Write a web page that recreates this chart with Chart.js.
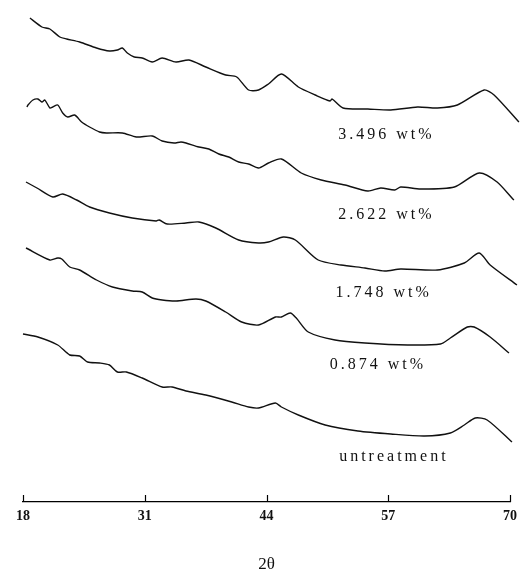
<!DOCTYPE html>
<html>
<head>
<meta charset="utf-8">
<script src="https://cdn.jsdelivr.net/npm/chart.js@4"></script>
<style>
  body { margin: 0; background: #fff; }
  #wrap { width: 523px; height: 575px; }
</style>
</head>
<body>
<div id="wrap"><canvas id="grafico"></canvas></div>
<script>
// 2theta ticks
const tickValues = [18, 31, 44, 57, 70];

// curves, top to bottom (intensity in arbitrary units, already stacked)
const x3496 = [18.74, 20.02, 20.87, 21.93, 22.67, 24.05, 25.85, 27.23, 28.08, 28.61, 29.14, 29.88, 30.73, 31.79, 32.85, 34.34, 35.72, 37.52, 39.64, 40.82, 42.09, 43.15, 44.21, 45.59, 47.40, 49.20, 50.79, 51.01, 52.17, 54.82, 57.27, 60.13, 62.25, 64.38, 67.24, 68.30, 70.95];
const y3496 = [484, 475, 473, 465, 463, 460, 454, 451, 452, 454, 449, 445, 444, 440, 444, 440, 442, 435, 427, 425, 412, 412, 418, 428, 415, 407, 401, 403, 394, 393, 392, 395, 394, 397, 412, 407, 380];

const x2622 = [18.42, 18.53, 19.06, 19.59, 20.02, 20.33, 20.87, 21.18, 21.71, 22.24, 22.78, 23.52, 24.26, 25.11, 26.17, 26.91, 28.61, 30.10, 31.80, 32.86, 34.13, 34.87, 35.40, 36.78, 37.84, 38.91, 39.97, 41.03, 42.09, 43.15, 44.21, 45.59, 47.71, 49.84, 52.38, 54.82, 56.20, 57.69, 58.33, 60.45, 64.06, 66.71, 68.62, 70.42, 70.96];
const y2622 = [395, 397, 402, 403, 400, 402, 394, 395, 397, 389, 385, 387, 380, 375, 370, 369, 369, 365, 366, 361, 359, 360, 359, 355, 353, 348, 345, 340, 338, 334, 339, 343, 329, 322, 317, 311, 314, 312, 315, 313, 315, 329, 320, 302, 299];

const x1748 = [18.32, 19.49, 21.18, 22.24, 23.73, 25.11, 27.23, 29.67, 32.22, 32.54, 33.39, 35.40, 36.78, 38.59, 41.03, 43.15, 44.21, 45.80, 47.08, 49.52, 51.96, 54.51, 56.63, 58.33, 62.25, 65.12, 66.71, 67.88, 70.74];
const y1748 = [320, 314, 305, 308, 302, 295, 289, 284, 281, 282, 278, 279, 280, 274, 262, 259, 260, 265, 262, 242, 237, 234, 231, 233, 232, 239, 249, 237, 217];

const x0874 = [18.32, 20.87, 21.71, 22.14, 22.99, 24.05, 25.85, 27.55, 29.67, 30.73, 31.80, 32.86, 34.34, 36.47, 37.52, 39.64, 41.35, 43.15, 44.95, 45.59, 46.54, 47.18, 48.46, 51.32, 54.51, 59.07, 62.57, 63.63, 65.44, 66.18, 67.88, 69.89];
const y0874 = [254, 242, 244, 243, 235, 232, 222, 215, 211, 210, 204, 202, 201, 203, 201, 190, 180, 177, 185, 185, 189, 184, 170, 162, 159, 157, 158, 164, 175, 175, 165, 149];

const xUntr = [18.00, 19.59, 21.71, 22.99, 24.05, 24.90, 26.17, 27.23, 28.08, 29.04, 30.73, 32.86, 33.92, 35.40, 37.52, 40.29, 42.09, 43.15, 44.95, 45.59, 47.40, 50.26, 53.76, 57.27, 60.87, 63.63, 65.12, 66.29, 67.56, 70.21];
const yUntr = [168, 165, 157, 147, 146, 140, 139, 137, 130, 130, 124, 115, 115, 111, 107, 100, 95, 94, 99, 95, 87, 77, 71, 68, 66, 69, 77, 84, 82, 60];

// curve labels and where they sit
const nomes = ["3.496 wt%", "2.622 wt%", "1.748 wt%", "0.874 wt%", "untreatment"];
const nomeX = [56.8, 56.8, 56.5, 55.9, 57.6];
const nomeY = [367, 287, 209, 137, 45];

const series = [[x3496, y3496], [x2622, y2622], [x1748, y1748], [x0874, y0874], [xUntr, yUntr]];

function pontos(xs, ys) {
  return xs.map((x, i) => ({ x: x, y: ys[i] }));
}

// tick marks pointing up + labels next to the curves
const extras = {
  id: 'extras',
  afterDatasetsDraw(chart) {
    const ctx = chart.ctx;
    const xs = chart.scales.x;
    const ys = chart.scales.y;
    ctx.save();
    ctx.strokeStyle = '#000';
    ctx.lineWidth = 1.2;
    for (const v of tickValues) {
      const px = Math.round(xs.getPixelForValue(v)) + 0.5;
      ctx.beginPath();
      ctx.moveTo(px, xs.top);
      ctx.lineTo(px, xs.top - 7);
      ctx.stroke();
    }
    ctx.fillStyle = '#111';
    ctx.font = '16px "Liberation Serif"';
    ctx.textAlign = 'center';
    ctx.textBaseline = 'middle';
    if ('letterSpacing' in ctx) ctx.letterSpacing = '3px';
    nomes.forEach((n, i) => {
      ctx.fillText(n, xs.getPixelForValue(nomeX[i]), ys.getPixelForValue(nomeY[i]));
    });
    ctx.restore();
  }
};

const ctx = document.getElementById("grafico").getContext("2d");
const chart = new Chart(ctx, {
  type: 'line',
  data: {
    datasets: series.map((s, i) => ({
      label: nomes[i],
      data: pontos(s[0], s[1]),
      borderColor: '#111',
      borderWidth: 1.4,
      pointRadius: 0,
      tension: 0.25,
      fill: false,
      clip: false
    }))
  },
  options: {
    responsive: true,
    maintainAspectRatio: false,
    animation: false,
    layout: { padding: { left: 23, right: 10, top: 10, bottom: 0 } },
    plugins: {
      legend: { display: false },
      tooltip: { enabled: false }
    },
    scales: {
      x: {
        type: 'linear',
        min: 18,
        max: 70,
        afterBuildTicks: (scale) => { scale.ticks = tickValues.map(v => ({ value: v })); },
        afterFit: (scale) => { scale.height = 73; },
        grid: { display: true, drawOnChartArea: false, drawTicks: false },
        border: { display: true, color: '#000', width: 1.2 },
        ticks: {
          padding: 6,
          color: '#111',
          font: { family: 'Liberation Serif', size: 14, weight: 'bold' },
          maxRotation: 0,
          autoSkip: false
        },
        title: {
          display: true,
          text: '2θ',
          color: '#111',
          font: { family: 'Liberation Serif', size: 17 },
          padding: { top: 0, bottom: 0 }
        }
      },
      y: {
        display: false,
        min: 0,
        max: 492
      }
    }
  },
  plugins: [extras]
});
</script>
</body>
</html>
